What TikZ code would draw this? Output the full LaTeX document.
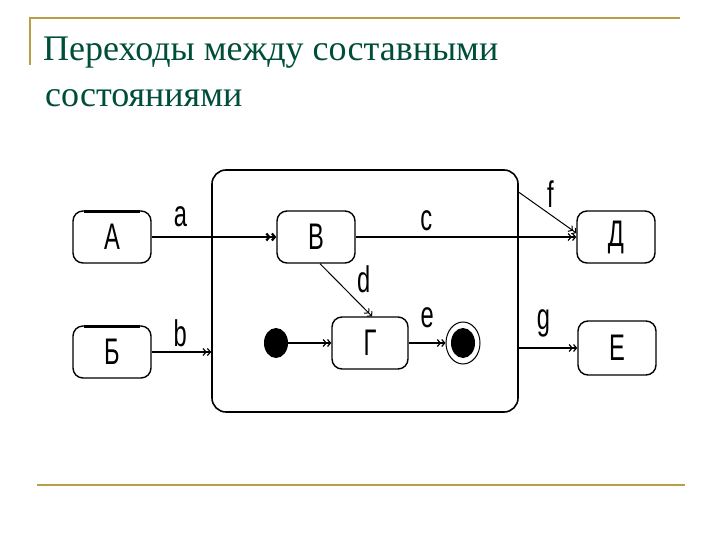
\documentclass[tikz,border=0pt]{standalone}
\usepackage{fontspec}
\setmainfont{Liberation Serif}
\newfontfamily\diagfont[FakeStretch=0.64]{Liberation Sans}
\usepackage{xcolor}
\usepackage{tikz}
\usetikzlibrary{positioning, shapes.geometric, arrows.meta, calc}
\definecolor{titlegreen}{RGB}{0,78,58}
\definecolor{rulegold}{RGB}{184,158,72}

\begin{document}
\begin{tikzpicture}[
    x=1pt, y=-1pt,
    font=\diagfont\fontsize{37}{40}\selectfont,
    trans/.style={-{Straight Barb[length=3pt, width=7pt] Straight Barb[length=3pt, width=7pt]}, line width=1.2pt},
    state/.style={
        rectangle,
        rounded corners=10pt,
        draw,
        line width=1.4pt,
        minimum width=78pt,
        minimum height=52pt,
        inner sep=0pt
    },
    superstate/.style={
        rectangle,
        rounded corners=14pt,
        draw,
        line width=1.6pt,
        minimum width=306pt,
        minimum height=242pt
    },
    pseudo/.style={ellipse, inner sep=0pt, minimum width=#1},
    lbl/.style={inner sep=1pt},
    titleline/.style={anchor=base west, text=titlegreen, inner sep=0pt, font=\rmfamily\fontsize{36}{42}\selectfont},
    rule/.style={draw=rulegold, line width=2pt}
]
\useasboundingbox (0,0) rectangle (720,540);

% === TITLE ===
\node (title1) [titleline] at (43,61) {Переходы между составными};
\node (title2) [titleline] at (45,107) {состояниями};
\draw [rule] (30,65) -- (30,18) -- (680,18);
\draw [rule] (37,485) -- (685,485);

% === COMPOSITE STATE ===
\node (super) [superstate] at (365,291) {};
\node (stV) [state] at (316,237) {В};
\node (stG) [state, minimum width=76pt] at (370,343) {Г};
\node (init) [pseudo=24pt, fill, minimum height=30pt] at (276,343) {};
\node (fin) [pseudo=34pt, draw, line width=1pt, minimum height=42pt] at (463,343) {};
\node (finDot) [pseudo=24pt, fill, minimum height=30pt] at (fin.center) {};

% === OUTER STATES ===
\node (stA) [state] at (112,237) {А};
\node (stB) [state] at (112,352) {Б};
\node (stD) [state] at (616,237) {Д};
\node (stE) [state, minimum height=54pt] at (617,348) {Е};
\draw [line width=3pt] ([xshift=12pt, yshift=-0.8pt]stA.north west) -- ([xshift=-12pt, yshift=-0.8pt]stA.north east);
\draw [line width=3pt] ([xshift=12pt, yshift=-0.8pt]stB.north west) -- ([xshift=-12pt, yshift=-0.8pt]stB.north east);

% === TRANSITIONS ===
\coordinate (fout) at ([yshift=-23pt]super.north east);
\draw [trans, line width=2.2pt] (stA.east) -- node [lbl, above=8pt, pos=0.23] (la) {a} (stV.west);
\draw [trans] (stB.east) -- node [lbl, above=4pt, pos=0.48] (lb) {b} (stB.east -| super.west);
\draw [trans] (stV.east) -- node [lbl, above=5pt, pos=0.32] (lc) {c} (stD.west);
\draw [trans, line width=1pt] ([xshift=4pt]stV.south) -- node [lbl, right=20pt, pos=0.3] (ld) {d} ([xshift=2pt]stG.north);
\draw [trans] (init.east) -- (stG.west);
\draw [trans] (stG.east) -- node [lbl, above=14pt, pos=0.5] (le) {e} (fin.west);
\draw [trans, line width=1pt] (fout) -- node [lbl, above=6pt, pos=0.55] (lf) {f} ([yshift=4pt]stD.west);
\draw [trans] (super.east |- stE.west) -- node [lbl, above=9pt, pos=0.42] (lg) {g} (stE.west);

\end{tikzpicture}
\end{document}
